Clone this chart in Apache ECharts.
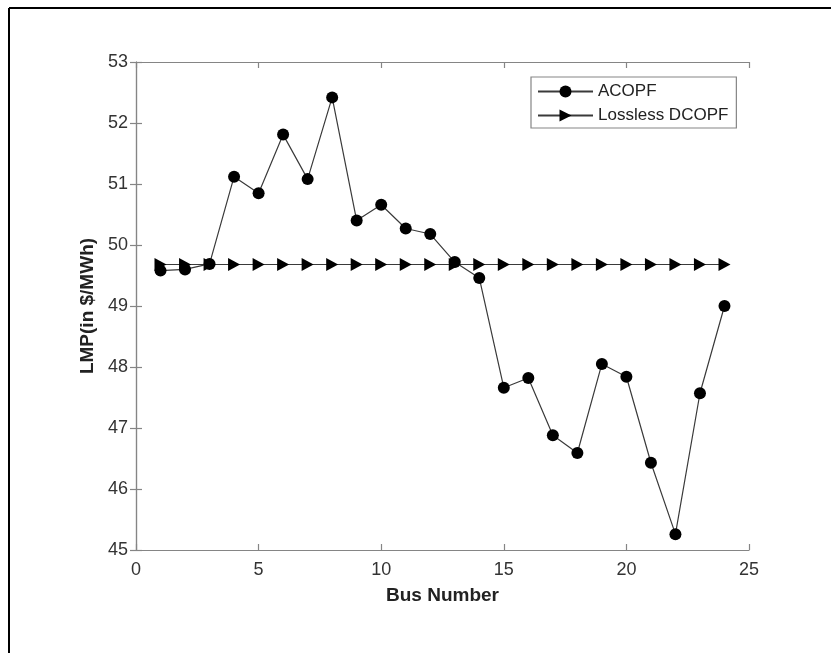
<!DOCTYPE html>
<html>
<head>
<meta charset="utf-8">
<script src="https://cdn.jsdelivr.net/npm/echarts@6/dist/echarts.min.js"></script>
<style>
  html, body { margin: 0; padding: 0; background: #fff; }
  #chart { width: 831px; height: 653px; }
</style>
</head>
<body>
<div id="chart"></div>
<script>
// Bus indices of the 24-bus system
const busNumbers = [1, 2, 3, 4, 5, 6, 7, 8, 9, 10, 11, 12, 13, 14, 15, 16, 17, 18, 19, 20, 21, 22, 23, 24];
// Locational marginal prices ($/MWh) from the AC optimal power flow
const acopfLmp = [49.58, 49.60, 49.69, 51.12, 50.85, 51.81, 51.08, 52.42, 50.40, 50.66, 50.27, 50.18,
                  49.72, 49.46, 47.66, 47.82, 46.88, 46.59, 48.05, 47.84, 46.43, 45.26, 47.57, 49.00];
// Lossless DC optimal power flow gives one uniform price
const dcopfLmp = [49.68, 49.68, 49.68, 49.68, 49.68, 49.68, 49.68, 49.68, 49.68, 49.68, 49.68, 49.68,
                  49.68, 49.68, 49.68, 49.68, 49.68, 49.68, 49.68, 49.68, 49.68, 49.68, 49.68, 49.68];
const xTicks = [0, 5, 10, 15, 20, 25];
const yTicks = [45, 46, 47, 48, 49, 50, 51, 52, 53];

const FONT = '"Liberation Sans", Arial, Helvetica, sans-serif';
const AXIS_GRAY = '#858585';
const LABEL_GRAY = '#333333';

const pairs = (xs, ys) => xs.map((x, i) => [x, ys[i]]);

const chart = echarts.init(document.getElementById('chart'), null, { renderer: 'canvas' });

const boxAxisLine = { show: true, lineStyle: { color: AXIS_GRAY, width: 1.2 } };
const boxTick = { show: true, inside: true, length: 6, lineStyle: { color: AXIS_GRAY, width: 1.2 } };

chart.setOption({
  backgroundColor: '#ffffff',
  animation: false,
  textStyle: { fontFamily: FONT },
  grid: { left: 136, top: 62, right: 82, bottom: 103, containLabel: false },
  graphic: [
    { type: 'line', shape: { x1: 9, y1: 8, x2: 831, y2: 8 }, style: { stroke: '#000', lineWidth: 2 } },
    { type: 'line', shape: { x1: 9, y1: 8, x2: 9, y2: 653 }, style: { stroke: '#000', lineWidth: 2 } }
  ],
  legend: {
    orient: 'vertical',
    left: 531,
    top: 77,
    padding: [6, 8, 4, 6],
    itemGap: 7,
    itemWidth: 55,
    itemHeight: 15,
    borderColor: AXIS_GRAY,
    borderWidth: 1.2,
    backgroundColor: '#fff',
    textStyle: { fontFamily: FONT, fontSize: 17, lineHeight: 17, color: '#222' },
    data: ['ACOPF', 'Lossless DCOPF']
  },
  xAxis: [
    {
      type: 'value', position: 'bottom',
      min: xTicks[0], max: xTicks[xTicks.length - 1], interval: 5,
      name: 'Bus Number', nameLocation: 'middle', nameGap: 36,
      nameTextStyle: { fontFamily: FONT, fontSize: 19, fontWeight: 'bold', color: '#222' },
      axisLine: boxAxisLine, axisTick: boxTick,
      axisLabel: { margin: 11, fontFamily: FONT, fontSize: 18, color: LABEL_GRAY },
      splitLine: { show: false }
    },
    {
      type: 'value', position: 'top',
      min: xTicks[0], max: xTicks[xTicks.length - 1], interval: 5,
      axisLine: boxAxisLine, axisTick: boxTick,
      axisLabel: { show: false }, splitLine: { show: false }
    }
  ],
  yAxis: [
    {
      type: 'value', position: 'left',
      min: yTicks[0], max: yTicks[yTicks.length - 1], interval: 1,
      name: 'LMP(in $/MWh)', nameLocation: 'middle', nameGap: 29, nameRotate: 90,
      nameTextStyle: { fontFamily: FONT, fontSize: 19, fontWeight: 'bold', color: '#222' },
      axisLine: boxAxisLine, axisTick: boxTick,
      axisLabel: { margin: 8, fontFamily: FONT, fontSize: 18, color: LABEL_GRAY },
      splitLine: { show: false }
    },
    {
      type: 'value', position: 'right',
      min: yTicks[0], max: yTicks[yTicks.length - 1], interval: 1,
      axisLine: boxAxisLine, axisTick: boxTick,
      axisLabel: { show: false }, splitLine: { show: false }
    }
  ],
  series: [
    {
      name: 'ACOPF',
      type: 'line',
      xAxisIndex: 0, yAxisIndex: 0,
      data: pairs(busNumbers, acopfLmp),
      symbol: 'circle',
      symbolSize: 12,
      showAllSymbol: true,
      lineStyle: { color: '#3a3a3a', width: 1.2 },
      itemStyle: { color: '#000', borderColor: '#000', borderWidth: 0 },
      z: 3
    },
    {
      name: 'Lossless DCOPF',
      type: 'line',
      xAxisIndex: 0, yAxisIndex: 0,
      data: pairs(busNumbers, dcopfLmp),
      symbol: 'triangle',
      symbolRotate: -90,
      symbolSize: [13, 12],
      showAllSymbol: true,
      lineStyle: { color: '#3a3a3a', width: 1.2 },
      itemStyle: { color: '#000', borderColor: '#000', borderWidth: 0 },
      z: 2
    }
  ]
});
</script>
</body>
</html>
